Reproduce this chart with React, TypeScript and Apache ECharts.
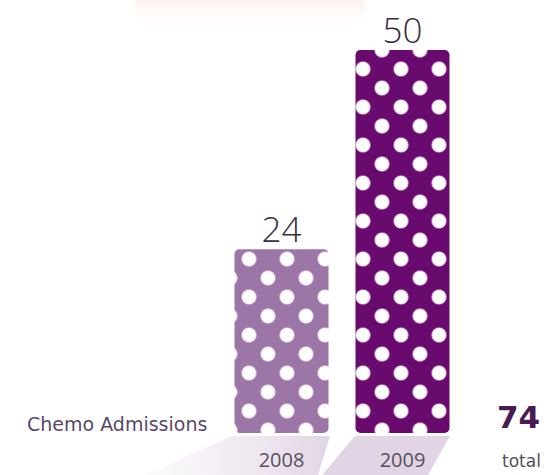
import React, { useEffect, useRef } from 'react';
import * as echarts from 'echarts';

const categories = ['2008', '2009'];
const values = [24, 50];
const barColors = ['#9d76a8', '#690a6f'];
const seriesName = 'Chemo Admissions';
const totalWord = 'total';

function makeTile(bg: string): HTMLCanvasElement {
  const c = document.createElement('canvas');
  c.width = 38;
  c.height = 38;
  const ctx = c.getContext('2d')!;
  ctx.fillStyle = bg;
  ctx.fillRect(0, 0, 38, 38);
  const pts = [
    [21, 31],
    [21, -7],
    [2, 12],
    [40, 12],
  ];
  ctx.fillStyle = 'rgba(255,225,250,0.6)';
  for (const [x, y] of pts) {
    ctx.beginPath();
    ctx.arc(x, y, 7.8, 0, Math.PI * 2);
    ctx.fill();
  }
  ctx.fillStyle = '#ffffff';
  for (const [x, y] of pts) {
    ctx.beginPath();
    ctx.arc(x, y, 6.9, 0, Math.PI * 2);
    ctx.fill();
  }
  return c;
}

export default function App() {
  const ref = useRef<HTMLDivElement>(null);
  useEffect(() => {
    if (!ref.current) return;
    const chart = echarts.init(ref.current, undefined, { renderer: 'svg' });
    const total = values.reduce((a, b) => a + b, 0);
    const data = values.map((v, i) => ({
      value: v,
      itemStyle: {
        color: {
          image: makeTile(barColors[i]),
          repeat: 'repeat',
          imageWidth: 38,
          imageHeight: 38,
        } as any,
      },
    }));
    chart.setOption({
      animation: false,
      backgroundColor: '#ffffff',
      grid: { left: 221, right: 83, top: 50, bottom: 42 },
      xAxis: {
        type: 'category',
        data: categories,
        axisLine: { show: false },
        axisTick: { show: false },
        axisLabel: {
          margin: 16,
          fontSize: 20,
          fontFamily: 'Open Sans',
          color: '#5a5060',
        },
      },
      yAxis: {
        type: 'value',
        min: 0,
        max: 50,
        show: false,
        splitLine: { show: false },
      },
      graphic: [
        {
          type: 'rect',
          z: -10,
          shape: { x: 135, y: 0, width: 230, height: 26 },
          style: {
            fill: {
              type: 'linear',
              x: 0,
              y: 0,
              x2: 0,
              y2: 1,
              colorStops: [
                { offset: 0, color: 'rgba(252,230,222,0.45)' },
                { offset: 1, color: 'rgba(252,238,232,0)' },
              ],
            } as any,
          },
        },
        {
          type: 'polygon',
          z: -10,
          shape: { points: [[232, 436], [330, 436], [318, 475], [145, 475]] },
          style: {
            fill: {
              type: 'linear',
              x: 1,
              y: 0,
              x2: 0,
              y2: 0,
              colorStops: [
                { offset: 0, color: 'rgba(205,185,210,0.6)' },
                { offset: 1, color: 'rgba(225,210,228,0.1)' },
              ],
            } as any,
          },
        },
        {
          type: 'polygon',
          z: -10,
          shape: { points: [[355, 436], [450, 436], [428, 475], [322, 475]] },
          style: { fill: 'rgba(200,176,206,0.55)' },
        },
        {
          type: 'text',
          left: 27,
          top: 414,
          style: {
            text: seriesName,
            fontSize: 19,
            fontFamily: 'DejaVu Sans',
            fill: '#5a4868',
          },
        },
        {
          type: 'text',
          left: 497,
          top: 401,
          style: {
            text: String(total),
            fontSize: 31,
            fontWeight: 'bold',
            fontFamily: 'DejaVu Sans',
            fill: '#4a1b52',
          },
        },
        {
          type: 'text',
          left: 502,
          top: 452,
          style: {
            text: totalWord,
            fontSize: 17,
            fontFamily: 'DejaVu Sans',
            fill: '#555055',
          },
        },
      ],
      series: [
        {
          type: 'bar',
          name: seriesName,
          data,
          barWidth: 94,
          itemStyle: { borderRadius: 5 },
          label: {
            show: true,
            position: 'top',
            distance: 3,
            fontSize: 35,
            fontFamily: 'Open Sans',
            fontWeight: 300,
            color: '#3a2e45',
          },
        },
      ],
    });
    return () => chart.dispose();
  }, []);
  return (
    <div
      ref={ref}
      style={{ position: 'absolute', left: 0, top: 0, width: 546, height: 475 }}
    />
  );
}
